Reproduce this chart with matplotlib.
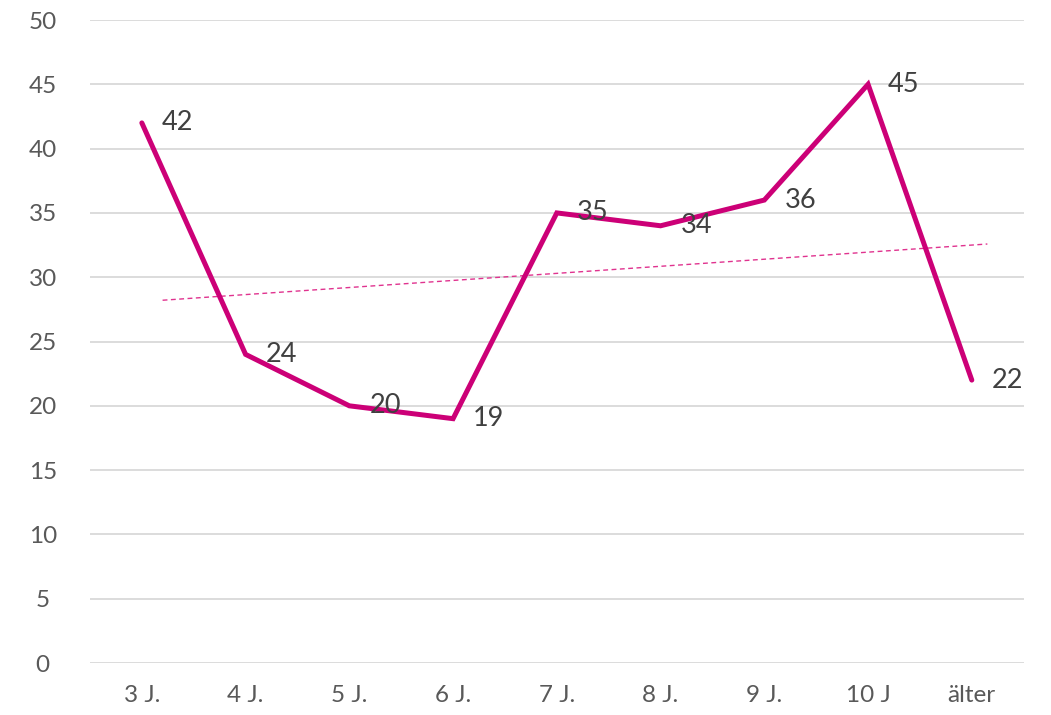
import numpy as np
import matplotlib.pyplot as plt

plt.rcParams['font.family'] = ['Lato', 'DejaVu Sans']

categories = ['3 J.', '4 J.', '5 J.', '6 J.', '7 J.', '8 J.', '9 J.', '10 J', 'älter']
values = [42, 24, 20, 19, 35, 34, 36, 45, 22]
# Trendlinie (Excel), Werte am ersten und letzten Punkt
trend_first = 28.1
trend_last = 32.5

line_col = '#CC0077'
trend_col = '#E0338F'

fig = plt.figure(figsize=(10.51, 7.15), dpi=100)
ax = fig.add_axes([0.0856, 0.0727, 0.8884, 0.8993])

x = np.arange(len(categories))
ax.plot(x, values, color=line_col, lw=3.6, solid_capstyle='round', solid_joinstyle='miter', zorder=3)

slope = (trend_last - trend_first) / (len(categories) - 1)
tx = np.array([0.2, len(categories) - 1 + 0.15])
ax.plot(tx, trend_first + slope * tx, color=trend_col, lw=1.0, ls=(0, (3.5, 2.5)), zorder=2)

for xi, v in zip(x, values):
    ax.annotate(str(v), (xi, v), xytext=(20, 0), textcoords='offset pixels',
                ha='left', va='center', fontsize=19.5, color='#404040', zorder=4)

ax.set_xlim(-0.5, len(categories) - 0.5)
ax.set_ylim(0, 50)
ax.set_yticks(range(0, 51, 5))
ax.set_xticks(x)
ax.set_xticklabels(categories)
ax.grid(axis='y', color='#D9D9D9', lw=1.3)
ax.set_axisbelow(True)
for s in ax.spines.values():
    s.set_visible(False)
ax.tick_params(length=0, labelsize=17.5, colors='#595959', pad=16)
ax.tick_params(axis='y', pad=34)
for lab in ax.get_yticklabels():
    lab.set_horizontalalignment('center')

fig.savefig('out.png', dpi=100)
